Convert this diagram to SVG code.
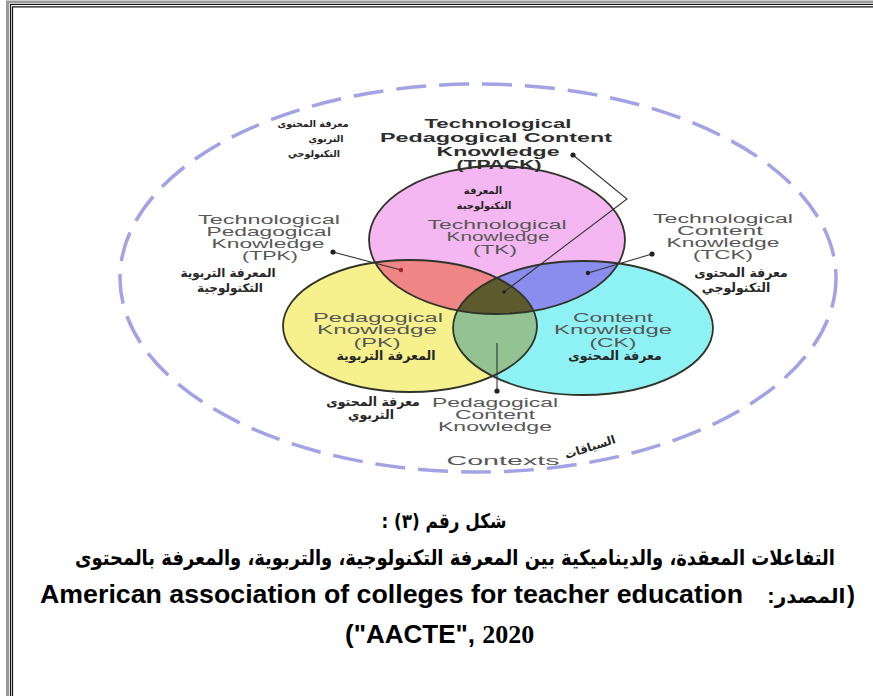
<svg xmlns="http://www.w3.org/2000/svg" xmlns:xlink="http://www.w3.org/1999/xlink" width="873" height="696" viewBox="0 0 873 696">
  <style>
    .en { font-family: "Liberation Sans", Arial, sans-serif; font-size: 12px; fill: #575757; }
    .enb { font-family: "Liberation Sans", Arial, sans-serif; font-size: 12.5px; font-weight: bold; fill: #2e2e2e; }
    .ar { font-family: "DejaVu Sans", "Noto Sans", sans-serif; font-weight: bold; fill: #262626; }
    .cap { font-family: "Liberation Sans", Arial, "DejaVu Sans", sans-serif; font-weight: bold; fill: #000; }
    .capar { font-family: "DejaVu Sans", "Liberation Serif", sans-serif; font-weight: bold; fill: #000; }
    .serif { font-family: "Liberation Serif", "Times New Roman", serif; font-weight: bold; fill: #000; }
    .edge { fill: none; stroke: #2f3328; stroke-width: 1.8; }
    .ptr { fill: none; stroke: #333; stroke-width: 1.1; }
    .dot { fill: #222; }
  </style>
  <defs>
    <ellipse id="shape-tk" cx="497" cy="240" rx="128" ry="74"/>
    <ellipse id="shape-pk" cx="410" cy="326" rx="127" ry="66"/>
    <ellipse id="shape-ck" cx="583" cy="328" rx="130" ry="67"/>
    <clipPath id="clip-tk"><use xlink:href="#shape-tk"/></clipPath>
    <clipPath id="clip-pk"><use xlink:href="#shape-pk"/></clipPath>
  </defs>

  <rect width="873" height="696" fill="#fff"/>

  <!-- page frame -->
  <g id="frame" fill="none">
    <path d="M7.5,696 V2 H873" stroke="#9a9a9a" stroke-width="3"/>
    <path d="M10.5,696 V4.5 H873" stroke="#111" stroke-width="1.2"/>
    <path d="M12.5,696 V6.8 H873" stroke="#111" stroke-width="1.2"/>
  </g>

  <!-- contexts ring -->
  <g id="node-contexts">
    <ellipse cx="478" cy="278" rx="358" ry="194" fill="none" stroke="#a2a2e4" stroke-width="3.5" stroke-dasharray="30 13"/>
    <text class="en" x="503" y="465" font-size="16" text-anchor="middle" textLength="113" lengthAdjust="spacingAndGlyphs">Contexts</text>
    <text class="ar" x="590" y="451" font-size="11.5" text-anchor="middle" transform="rotate(-18 590 447)">السياقات</text>
  </g>

  <!-- the three knowledge areas and their overlaps -->
  <g id="node-circles">
    <use xlink:href="#shape-pk" fill="#f6f18c"/>
    <use xlink:href="#shape-ck" fill="#8ef2f5"/>
    <use xlink:href="#shape-tk" fill="#f5b7f2"/>
    <g clip-path="url(#clip-tk)">
      <use xlink:href="#shape-pk" fill="#f08585"/>
      <use xlink:href="#shape-ck" fill="#8a8cee"/>
    </g>
    <g clip-path="url(#clip-pk)">
      <use xlink:href="#shape-ck" fill="#93c392"/>
    </g>
    <g clip-path="url(#clip-tk)">
      <g clip-path="url(#clip-pk)">
        <use xlink:href="#shape-ck" fill="#5d5a2e"/>
      </g>
    </g>
    <use xlink:href="#shape-pk" class="edge"/>
    <use xlink:href="#shape-ck" class="edge"/>
    <use xlink:href="#shape-tk" class="edge"/>
  </g>

  <!-- TK -->
  <g id="node-tk" text-anchor="middle">
    <text class="ar" x="483" y="194" font-size="10">المعرفة</text>
    <text class="ar" x="484" y="209" font-size="10">التكنولوجية</text>
    <text class="en" x="497" y="229" textLength="139" lengthAdjust="spacingAndGlyphs">Technological</text>
    <text class="en" x="498" y="241" textLength="103" lengthAdjust="spacingAndGlyphs">Knowledge</text>
    <text class="en" x="495" y="254" textLength="44" lengthAdjust="spacingAndGlyphs">(TK)</text>
  </g>

  <!-- PK -->
  <g id="node-pk" text-anchor="middle">
    <text class="en" x="378" y="322" textLength="130" lengthAdjust="spacingAndGlyphs">Pedagogical</text>
    <text class="en" x="377" y="334" textLength="120" lengthAdjust="spacingAndGlyphs">Knowledge</text>
    <text class="en" x="377" y="347" textLength="47" lengthAdjust="spacingAndGlyphs">(PK)</text>
    <text class="ar" x="386" y="360" font-size="12.5">المعرفة التربوية</text>
  </g>

  <!-- CK -->
  <g id="node-ck" text-anchor="middle">
    <text class="en" x="613" y="322" textLength="80" lengthAdjust="spacingAndGlyphs">Content</text>
    <text class="en" x="613" y="334" textLength="118" lengthAdjust="spacingAndGlyphs">Knowledge</text>
    <text class="en" x="613" y="347" textLength="47" lengthAdjust="spacingAndGlyphs">(CK)</text>
    <text class="ar" x="615" y="360" font-size="12.5">معرفة المحتوى</text>
  </g>

  <!-- TPACK -->
  <g id="node-tpack" text-anchor="middle">
    <text class="enb" x="498" y="128" textLength="147" lengthAdjust="spacingAndGlyphs">Technological</text>
    <text class="enb" x="496" y="142" textLength="232" lengthAdjust="spacingAndGlyphs">Pedagogical Content</text>
    <text class="enb" x="498" y="156" textLength="123" lengthAdjust="spacingAndGlyphs">Knowledge</text>
    <text class="enb" x="499" y="169" textLength="85" lengthAdjust="spacingAndGlyphs">(TPACK)</text>
    <text class="ar" x="313" y="127" font-size="9.5">معرفة المحتوى</text>
    <text class="ar" x="326" y="142" font-size="9.5">التربوي</text>
    <text class="ar" x="314" y="157" font-size="9.5">التكنولوجي</text>
  </g>

  <!-- TPK -->
  <g id="node-tpk" text-anchor="middle">
    <text class="en" x="269" y="224" textLength="142" lengthAdjust="spacingAndGlyphs">Technological</text>
    <text class="en" x="269" y="236" textLength="125" lengthAdjust="spacingAndGlyphs">Pedagogical</text>
    <text class="en" x="268" y="248" textLength="113" lengthAdjust="spacingAndGlyphs">Knowledge</text>
    <text class="en" x="270" y="260" textLength="56" lengthAdjust="spacingAndGlyphs">(TPK)</text>
    <text class="ar" x="228" y="277" font-size="12">المعرفة التربوية</text>
    <text class="ar" x="230" y="292" font-size="12">التكنولوجية</text>
  </g>

  <!-- TCK -->
  <g id="node-tck" text-anchor="middle">
    <text class="en" x="723" y="223" textLength="140" lengthAdjust="spacingAndGlyphs">Technological</text>
    <text class="en" x="720" y="235" textLength="86" lengthAdjust="spacingAndGlyphs">Content</text>
    <text class="en" x="723" y="247" textLength="113" lengthAdjust="spacingAndGlyphs">Knowledge</text>
    <text class="en" x="723" y="259" textLength="60" lengthAdjust="spacingAndGlyphs">(TCK)</text>
    <text class="ar" x="741" y="277" font-size="12.5">معرفة المحتوى</text>
    <text class="ar" x="736" y="292" font-size="12.5">التكنولوجي</text>
  </g>

  <!-- PCK -->
  <g id="node-pck" text-anchor="middle">
    <text class="en" x="495" y="407" textLength="126" lengthAdjust="spacingAndGlyphs">Pedagogical</text>
    <text class="en" x="495" y="419" textLength="80" lengthAdjust="spacingAndGlyphs">Content</text>
    <text class="en" x="495" y="431" textLength="114" lengthAdjust="spacingAndGlyphs">Knowledge</text>
    <text class="ar" x="373" y="406" font-size="12.5">معرفة المحتوى</text>
    <text class="ar" x="371" y="419" font-size="12.5">التربوي</text>
  </g>

  <!-- label pointers -->
  <g id="connectors">
    <polyline class="ptr" points="573,155 627,199 504,292"/>
    <circle class="dot" cx="573" cy="155" r="2.6"/>
    <circle class="dot" cx="504" cy="292" r="1.8"/>
    <line class="ptr" x1="333" y1="252" x2="401" y2="270"/>
    <circle class="dot" cx="333" cy="252" r="2.6"/>
    <circle cx="401" cy="270" r="2.2" fill="#a02525"/>
    <line class="ptr" x1="652" y1="254" x2="588" y2="273"/>
    <circle class="dot" cx="652" cy="254" r="2.6"/>
    <circle class="dot" cx="588" cy="273" r="2.2"/>
    <line class="ptr" x1="497" y1="343" x2="497" y2="391"/>
    <circle class="dot" cx="497" cy="391" r="2.6"/>
  </g>

  <!-- caption -->
  <g id="caption">
    <text class="capar" x="444" y="528" font-size="20" text-anchor="middle" textLength="125" lengthAdjust="spacingAndGlyphs">&#x202B;شكل رقم (٣) :&#x202C;</text>
    <text class="capar" x="455" y="565" font-size="21" text-anchor="middle" textLength="760" lengthAdjust="spacingAndGlyphs">&#x202B;التفاعلات المعقدة، والديناميكية بين المعرفة التكنولوجية، والتربوية، والمعرفة بالمحتوى&#x202C;</text>
    <text class="cap" x="40" y="603" font-size="26" textLength="703" lengthAdjust="spacingAndGlyphs">American association of colleges for teacher education</text>
    <text class="cap" x="771" y="603" font-size="22" text-anchor="middle">:</text>
    <text class="capar" x="810" y="603" font-size="20" text-anchor="middle">المصدر</text>
    <text class="cap" x="851" y="603" font-size="24" text-anchor="middle">)</text>
    <text x="345" y="643" font-size="26"><tspan class="cap">("AACTE", </tspan><tspan class="serif">2020</tspan></text>
  </g>
</svg>
